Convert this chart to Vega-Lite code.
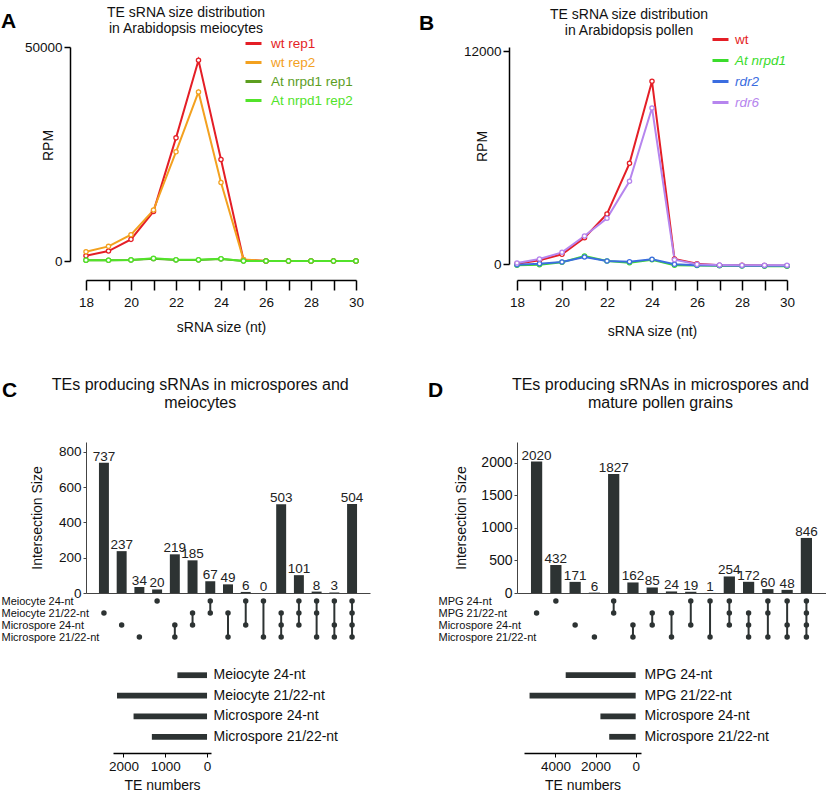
{
  "$schema": "https://vega.github.io/schema/vega-lite/v6.json",
  "padding": {"left": 1, "top": 5, "right": 0, "bottom": 0},
  "resolve": {"scale": {"color": "independent"}, "legend": {"color": "independent"}},
  "config": {
    "font": "Liberation Sans",
    "view": {"stroke": null},
    "axis": {"labelFont": "Liberation Sans", "titleFont": "Liberation Sans", "labelColor": "#111", "titleColor": "#111", "domainColor": "#222", "tickColor": "#222", "grid": false, "titleFontWeight": "normal", "labelFlush": false, "labelOverlap": false},
    "title": {"font": "Liberation Sans", "fontWeight": "normal", "color": "#111"},
    "legend": {"labelFont": "Liberation Sans"}
  },
  "datasets": {
    "a": [
      {"size": 18, "series": "wt rep1", "rpm": 1244}, {"size": 19, "series": "wt rep1", "rpm": 2333}, {"size": 20, "series": "wt rep1", "rpm": 5054}, {"size": 21, "series": "wt rep1", "rpm": 11586}, {"size": 22, "series": "wt rep1", "rpm": 28771}, {"size": 23, "series": "wt rep1", "rpm": 46890}, {"size": 24, "series": "wt rep1", "rpm": 23717}, {"size": 25, "series": "wt rep1", "rpm": 300}, {"size": 26, "series": "wt rep1", "rpm": 0}, {"size": 27, "series": "wt rep1", "rpm": 0}, {"size": 28, "series": "wt rep1", "rpm": 0}, {"size": 29, "series": "wt rep1", "rpm": 0}, {"size": 30, "series": "wt rep1", "rpm": 0},
      {"size": 18, "series": "wt rep2", "rpm": 2177}, {"size": 19, "series": "wt rep2", "rpm": 3421}, {"size": 20, "series": "wt rep2", "rpm": 6143}, {"size": 21, "series": "wt rep2", "rpm": 11897}, {"size": 22, "series": "wt rep2", "rpm": 25505}, {"size": 23, "series": "wt rep2", "rpm": 39502}, {"size": 24, "series": "wt rep2", "rpm": 18351}, {"size": 25, "series": "wt rep2", "rpm": 350}, {"size": 26, "series": "wt rep2", "rpm": 0}, {"size": 27, "series": "wt rep2", "rpm": 0}, {"size": 28, "series": "wt rep2", "rpm": 0}, {"size": 29, "series": "wt rep2", "rpm": 0}, {"size": 30, "series": "wt rep2", "rpm": 0},
      {"size": 18, "series": "At nrpd1 rep1", "rpm": 155}, {"size": 19, "series": "At nrpd1 rep1", "rpm": 155}, {"size": 20, "series": "At nrpd1 rep1", "rpm": 233}, {"size": 21, "series": "At nrpd1 rep1", "rpm": 544}, {"size": 22, "series": "At nrpd1 rep1", "rpm": 250}, {"size": 23, "series": "At nrpd1 rep1", "rpm": 233}, {"size": 24, "series": "At nrpd1 rep1", "rpm": 467}, {"size": 25, "series": "At nrpd1 rep1", "rpm": 10}, {"size": 26, "series": "At nrpd1 rep1", "rpm": 0}, {"size": 27, "series": "At nrpd1 rep1", "rpm": 0}, {"size": 28, "series": "At nrpd1 rep1", "rpm": 0}, {"size": 29, "series": "At nrpd1 rep1", "rpm": 0}, {"size": 30, "series": "At nrpd1 rep1", "rpm": 0},
      {"size": 18, "series": "At nrpd1 rep2", "rpm": 200}, {"size": 19, "series": "At nrpd1 rep2", "rpm": 180}, {"size": 20, "series": "At nrpd1 rep2", "rpm": 260}, {"size": 21, "series": "At nrpd1 rep2", "rpm": 620}, {"size": 22, "series": "At nrpd1 rep2", "rpm": 300}, {"size": 23, "series": "At nrpd1 rep2", "rpm": 280}, {"size": 24, "series": "At nrpd1 rep2", "rpm": 540}, {"size": 25, "series": "At nrpd1 rep2", "rpm": 20}, {"size": 26, "series": "At nrpd1 rep2", "rpm": 0}, {"size": 27, "series": "At nrpd1 rep2", "rpm": 0}, {"size": 28, "series": "At nrpd1 rep2", "rpm": 0}, {"size": 29, "series": "At nrpd1 rep2", "rpm": 0}, {"size": 30, "series": "At nrpd1 rep2", "rpm": 0}
    ],
    "b": [
      {"size": 18, "series": "wt", "rpm": 19}, {"size": 19, "series": "wt", "rpm": 207}, {"size": 20, "series": "wt", "rpm": 545}, {"size": 21, "series": "wt", "rpm": 1486}, {"size": 22, "series": "wt", "rpm": 2821}, {"size": 23, "series": "wt", "rpm": 5680}, {"size": 24, "series": "wt", "rpm": 10307}, {"size": 25, "series": "wt", "rpm": 282}, {"size": 26, "series": "wt", "rpm": 19}, {"size": 27, "series": "wt", "rpm": -75}, {"size": 28, "series": "wt", "rpm": -75}, {"size": 29, "series": "wt", "rpm": -90}, {"size": 30, "series": "wt", "rpm": -94},
      {"size": 18, "series": "At nrpd1", "rpm": -75}, {"size": 19, "series": "At nrpd1", "rpm": -38}, {"size": 20, "series": "At nrpd1", "rpm": 94}, {"size": 21, "series": "At nrpd1", "rpm": 451}, {"size": 22, "series": "At nrpd1", "rpm": 169}, {"size": 23, "series": "At nrpd1", "rpm": 75}, {"size": 24, "series": "At nrpd1", "rpm": 244}, {"size": 25, "series": "At nrpd1", "rpm": -75}, {"size": 26, "series": "At nrpd1", "rpm": -90}, {"size": 27, "series": "At nrpd1", "rpm": -100}, {"size": 28, "series": "At nrpd1", "rpm": -110}, {"size": 29, "series": "At nrpd1", "rpm": -120}, {"size": 30, "series": "At nrpd1", "rpm": -130},
      {"size": 18, "series": "rdr2", "rpm": -38}, {"size": 19, "series": "rdr2", "rpm": 19}, {"size": 20, "series": "rdr2", "rpm": 113}, {"size": 21, "series": "rdr2", "rpm": 395}, {"size": 22, "series": "rdr2", "rpm": 169}, {"size": 23, "series": "rdr2", "rpm": 132}, {"size": 24, "series": "rdr2", "rpm": 263}, {"size": 25, "series": "rdr2", "rpm": -19}, {"size": 26, "series": "rdr2", "rpm": -75}, {"size": 27, "series": "rdr2", "rpm": -90}, {"size": 28, "series": "rdr2", "rpm": -94}, {"size": 29, "series": "rdr2", "rpm": -94}, {"size": 30, "series": "rdr2", "rpm": -94},
      {"size": 18, "series": "rdr6", "rpm": 56}, {"size": 19, "series": "rdr6", "rpm": 282}, {"size": 20, "series": "rdr6", "rpm": 658}, {"size": 21, "series": "rdr6", "rpm": 1580}, {"size": 22, "series": "rdr6", "rpm": 2577}, {"size": 23, "series": "rdr6", "rpm": 4664}, {"size": 24, "series": "rdr6", "rpm": 8802}, {"size": 25, "series": "rdr6", "rpm": 244}, {"size": 26, "series": "rdr6", "rpm": -19}, {"size": 27, "series": "rdr6", "rpm": -56}, {"size": 28, "series": "rdr6", "rpm": -75}, {"size": 29, "series": "rdr6", "rpm": -75}, {"size": 30, "series": "rdr6", "rpm": -75}
    ],
    "cbars": [
      {"id": 1, "n": 737}, {"id": 2, "n": 237}, {"id": 3, "n": 34}, {"id": 4, "n": 20}, {"id": 5, "n": 219}, {"id": 6, "n": 185}, {"id": 7, "n": 67}, {"id": 8, "n": 49}, {"id": 9, "n": 6}, {"id": 10, "n": 0}, {"id": 11, "n": 503}, {"id": 12, "n": 101}, {"id": 13, "n": 8}, {"id": 14, "n": 3}, {"id": 15, "n": 504}
    ],
    "cdots": [
      {"id": 1, "set": "Meiocyte 21/22-nt"},
      {"id": 2, "set": "Microspore 24-nt"},
      {"id": 3, "set": "Microspore 21/22-nt"},
      {"id": 4, "set": "Meiocyte 24-nt"},
      {"id": 5, "set": "Microspore 24-nt"}, {"id": 5, "set": "Microspore 21/22-nt"},
      {"id": 6, "set": "Meiocyte 21/22-nt"}, {"id": 6, "set": "Microspore 24-nt"},
      {"id": 7, "set": "Meiocyte 24-nt"}, {"id": 7, "set": "Meiocyte 21/22-nt"},
      {"id": 8, "set": "Meiocyte 21/22-nt"}, {"id": 8, "set": "Microspore 21/22-nt"},
      {"id": 9, "set": "Meiocyte 24-nt"}, {"id": 9, "set": "Microspore 24-nt"},
      {"id": 10, "set": "Meiocyte 24-nt"}, {"id": 10, "set": "Microspore 21/22-nt"},
      {"id": 11, "set": "Meiocyte 21/22-nt"}, {"id": 11, "set": "Microspore 24-nt"}, {"id": 11, "set": "Microspore 21/22-nt"},
      {"id": 12, "set": "Meiocyte 24-nt"}, {"id": 12, "set": "Meiocyte 21/22-nt"}, {"id": 12, "set": "Microspore 24-nt"},
      {"id": 13, "set": "Meiocyte 24-nt"}, {"id": 13, "set": "Meiocyte 21/22-nt"}, {"id": 13, "set": "Microspore 21/22-nt"},
      {"id": 14, "set": "Meiocyte 24-nt"}, {"id": 14, "set": "Microspore 24-nt"}, {"id": 14, "set": "Microspore 21/22-nt"},
      {"id": 15, "set": "Meiocyte 24-nt"}, {"id": 15, "set": "Meiocyte 21/22-nt"}, {"id": 15, "set": "Microspore 24-nt"}, {"id": 15, "set": "Microspore 21/22-nt"}
    ],
    "csets": [
      {"set": "Meiocyte 24-nt", "n": 709}, {"set": "Meiocyte 21/22-nt", "n": 2154}, {"set": "Microspore 24-nt", "n": 1758}, {"set": "Microspore 21/22-nt", "n": 1320}
    ],
    "dbars": [
      {"id": 1, "n": 2020}, {"id": 2, "n": 432}, {"id": 3, "n": 171}, {"id": 4, "n": 6}, {"id": 5, "n": 1827}, {"id": 6, "n": 162}, {"id": 7, "n": 85}, {"id": 8, "n": 24}, {"id": 9, "n": 19}, {"id": 10, "n": 1}, {"id": 11, "n": 254}, {"id": 12, "n": 172}, {"id": 13, "n": 60}, {"id": 14, "n": 48}, {"id": 15, "n": 846}
    ],
    "ddots": [
      {"id": 1, "set": "MPG 21/22-nt"},
      {"id": 2, "set": "MPG 24-nt"},
      {"id": 3, "set": "Microspore 24-nt"},
      {"id": 4, "set": "Microspore 21/22-nt"},
      {"id": 5, "set": "MPG 24-nt"}, {"id": 5, "set": "MPG 21/22-nt"},
      {"id": 6, "set": "Microspore 24-nt"}, {"id": 6, "set": "Microspore 21/22-nt"},
      {"id": 7, "set": "MPG 21/22-nt"}, {"id": 7, "set": "Microspore 24-nt"},
      {"id": 8, "set": "MPG 21/22-nt"}, {"id": 8, "set": "Microspore 21/22-nt"},
      {"id": 9, "set": "MPG 24-nt"}, {"id": 9, "set": "Microspore 24-nt"},
      {"id": 10, "set": "MPG 24-nt"}, {"id": 10, "set": "Microspore 21/22-nt"},
      {"id": 11, "set": "MPG 24-nt"}, {"id": 11, "set": "MPG 21/22-nt"}, {"id": 11, "set": "Microspore 24-nt"},
      {"id": 12, "set": "MPG 21/22-nt"}, {"id": 12, "set": "Microspore 24-nt"}, {"id": 12, "set": "Microspore 21/22-nt"},
      {"id": 13, "set": "MPG 24-nt"}, {"id": 13, "set": "MPG 21/22-nt"}, {"id": 13, "set": "Microspore 21/22-nt"},
      {"id": 14, "set": "MPG 24-nt"}, {"id": 14, "set": "Microspore 24-nt"}, {"id": 14, "set": "Microspore 21/22-nt"},
      {"id": 15, "set": "MPG 24-nt"}, {"id": 15, "set": "MPG 21/22-nt"}, {"id": 15, "set": "Microspore 24-nt"}, {"id": 15, "set": "Microspore 21/22-nt"}
    ],
    "dsets": [
      {"set": "MPG 24-nt", "n": 3487}, {"set": "MPG 21/22-nt", "n": 5288}, {"set": "Microspore 24-nt", "n": 1757}, {"set": "Microspore 21/22-nt", "n": 1319}
    ]
  },
  "hconcat": [
    {
      "title": {"text": "A", "fontSize": 21, "fontWeight": "bold", "anchor": "start", "frame": "bounds", "offset": -26, "dx": 0, "color": "#000"},
      "spacing": 41,
      "vconcat": [
        {
          "width": 270, "height": 214,
          "data": {"name": "a"},
          "title": {"text": ["TE sRNA size distribution", "in Arabidopsis meiocytes"], "fontSize": 14, "lineHeight": 16.5, "anchor": "middle", "frame": "bounds", "offset": 4, "dx": -8},
          "encoding": {
            "x": {"field": "size", "type": "quantitative", "scale": {"domain": [18, 30], "nice": false, "zero": false},
              "axis": {"values": [18, 19, 20, 21, 22, 23, 24, 25, 26, 27, 28, 29, 30], "labelExpr": "datum.value % 2 == 0 ? datum.label : ''", "offset": 19, "tickSize": 10, "tickWidth": 1.5, "domainWidth": 1.5, "domainColor": "#000", "tickColor": "#000", "labelPadding": 5, "labelFontSize": 13.5, "title": "sRNA size (nt)", "titleFontSize": 14, "titlePadding": 12}},
            "y": {"field": "rpm", "type": "quantitative", "scale": {"domain": [0, 50000], "nice": false},
              "axis": {"values": [0, 50000], "format": "d", "offset": 16, "tickSize": 6, "tickWidth": 1.5, "domainWidth": 1.5, "domainColor": "#000", "tickColor": "#000", "labelPadding": 2, "labelFontSize": 13.5, "title": "RPM", "titleFontSize": 14, "titleX": -18, "titleY": 98, "titleAngle": -90, "titleBaseline": "alphabetic", "titleAlign": "center"}},
            "color": {"field": "series", "type": "nominal",
              "scale": {"domain": ["wt rep1", "wt rep2", "At nrpd1 rep1", "At nrpd1 rep2"], "range": ["#e41e26", "#f3a11f", "#5c9e1f", "#52e32a"]},
              "legend": {"orient": "none", "legendX": 158, "legendY": -13, "title": null, "padding": 0, "symbolType": "stroke", "symbolSize": 256, "symbolStrokeWidth": 3, "labelFontSize": 13.5, "labelOffset": 8, "rowPadding": 3,
                "labelColor": {"expr": "datum.label == 'wt rep1' ? '#e41e26' : datum.label == 'wt rep2' ? '#f3a11f' : datum.label == 'At nrpd1 rep1' ? '#5c9e1f' : '#52e32a'"}}}
          },
          "layer": [
            {"mark": {"type": "line", "strokeWidth": 2}},
            {"mark": {"type": "point", "filled": false, "fill": "white", "size": 18, "strokeWidth": 1.3, "opacity": 1}}
          ]
        },
        {
          "title": {"text": "C", "fontSize": 21, "fontWeight": "bold", "anchor": "start", "frame": "bounds", "offset": -24, "dx": 1, "color": "#000"},
          "spacing": 16,
          "vconcat": [
            {
              "spacing": 2,
              "bounds": "flush",
              "vconcat": [
                {
                  "width": 284, "height": 151,
                  "data": {"name": "cbars"},
                  "title": {"text": ["TEs producing sRNAs in microspores and", "meiocytes"], "fontSize": 16, "lineHeight": 18.5, "anchor": "middle", "frame": "bounds", "offset": 31},
                  "encoding": {
                    "x": {"field": "id", "type": "ordinal", "scale": {"type": "band", "paddingInner": 0.438, "paddingOuter": 0.731}, "axis": {"labels": false, "ticks": false, "title": null, "domainColor": "#444"}},
                    "y": {"field": "n", "type": "quantitative", "scale": {"domain": [0, 855], "nice": false},
                      "axis": {"values": [0, 200, 400, 600, 800], "title": "Intersection Size", "titleFontSize": 14, "labelFontSize": 13.5, "tickSize": 3, "labelPadding": 2, "titlePadding": 14, "domainColor": "#444", "tickColor": "#444"}}
                  },
                  "layer": [
                    {"mark": {"type": "bar", "color": "#2d3333"}},
                    {"mark": {"type": "text", "baseline": "alphabetic", "dy": -2, "fontSize": 13.5, "color": "#222"}, "encoding": {"text": {"field": "n", "type": "quantitative"}}}
                  ]
                },
                {
                  "width": 284, "height": 48,
                  "data": {"name": "cdots"},
                  "encoding": {
                    "x": {"field": "id", "type": "ordinal", "bandPosition": 0.5, "scale": {"type": "band", "paddingInner": 0.438, "paddingOuter": 0.731}, "axis": null},
                    "y": {"field": "set", "type": "nominal", "scale": {"type": "point", "domain": ["Meiocyte 24-nt", "Meiocyte 21/22-nt", "Microspore 24-nt", "Microspore 21/22-nt"], "padding": 0.5},
                      "axis": {"title": null, "ticks": false, "tickSize": 0, "domain": false, "labelAlign": "left", "labelPadding": 85, "labelFontSize": 11}}
                  },
                  "layer": [
                    {"mark": {"type": "line", "color": "#2d3333", "strokeWidth": 2}, "encoding": {"detail": {"field": "id", "type": "nominal"}}},
                    {"mark": {"type": "circle", "color": "#2d3333", "size": 30, "opacity": 1}}
                  ]
                }
              ]
            },
            {
              "spacing": 1,
              "hconcat": [
                {"width": 21, "height": 10, "data": {"values": [{"z": 0}]}, "mark": {"type": "point", "opacity": 0, "size": 1}},
                {
                  "width": 98, "height": 94,
                  "data": {"name": "csets"},
                  "mark": {"type": "bar", "color": "#2d3333"},
                  "encoding": {
                    "y": {"field": "set", "type": "nominal", "scale": {"domain": ["Meiocyte 24-nt", "Meiocyte 21/22-nt", "Microspore 24-nt", "Microspore 21/22-nt"], "paddingInner": 0.72, "paddingOuter": 0.65},
                      "axis": {"orient": "right", "title": null, "ticks": false, "tickSize": 0, "domain": false, "labelPadding": 2, "labelFontSize": 14}},
                    "x": {"field": "n", "type": "quantitative", "scale": {"domain": [-95, 2250], "reverse": true, "nice": false, "zero": false},
                      "axis": {"values": [0, 1000, 2000], "format": "d", "title": "TE numbers", "titleFontSize": 14, "labelFontSize": 13.5, "tickSize": 4, "labelPadding": 2, "titlePadding": 6, "domainWidth": 1.5, "domainColor": "#000", "tickColor": "#000"}}
                  }
                }
              ]
            }
          ]
        }
      ]
    },
    {
      "title": {"text": "B", "fontSize": 21, "fontWeight": "bold", "anchor": "start", "frame": "bounds", "offset": -26, "dx": -9, "color": "#000"},
      "spacing": 37,
      "vconcat": [
        {
          "width": 270, "height": 217,
          "data": {"name": "b"},
          "title": {"text": ["TE sRNA size distribution", "in Arabidopsis pollen"], "fontSize": 14, "lineHeight": 16.5, "anchor": "middle", "frame": "bounds", "offset": 6},
          "encoding": {
            "x": {"field": "size", "type": "quantitative", "scale": {"domain": [18, 30], "nice": false, "zero": false},
              "axis": {"values": [18, 19, 20, 21, 22, 23, 24, 25, 26, 27, 28, 29, 30], "labelExpr": "datum.value % 2 == 0 ? datum.label : ''", "offset": 16, "tickSize": 10, "tickWidth": 1.5, "domainWidth": 1.5, "domainColor": "#000", "tickColor": "#000", "labelPadding": 5, "labelFontSize": 13.5, "title": "sRNA size (nt)", "titleFontSize": 14, "titlePadding": 16}},
            "y": {"field": "rpm", "type": "quantitative", "scale": {"domain": [0, 12240], "nice": false, "zero": false},
              "axis": {"values": [0, 12000], "format": "d", "offset": 8, "tickSize": 6, "tickWidth": 1.5, "domainWidth": 1.5, "domainColor": "#000", "tickColor": "#000", "labelPadding": 2, "labelFontSize": 13.5, "title": "RPM", "titleFontSize": 14, "titleX": -23, "titleY": 99, "titleAngle": -90, "titleBaseline": "alphabetic", "titleAlign": "center"}},
            "color": {"field": "series", "type": "nominal",
              "scale": {"domain": ["wt", "At nrpd1", "rdr2", "rdr6"], "range": ["#e41e26", "#3bdc2c", "#3b6de0", "#b685ee"]},
              "legend": {"orient": "none", "legendX": 194, "legendY": -17, "title": null, "padding": 0, "symbolType": "stroke", "symbolSize": 256, "symbolStrokeWidth": 3, "labelFontSize": 13.5, "labelOffset": 5, "rowPadding": 5,
                "labelFontStyle": {"expr": "datum.label == 'wt' ? 'normal' : 'italic'"},
                "labelColor": {"expr": "datum.label == 'wt' ? '#e41e26' : datum.label == 'At nrpd1' ? '#3bdc2c' : datum.label == 'rdr2' ? '#3b6de0' : '#b685ee'"}}}
          },
          "layer": [
            {"mark": {"type": "line", "strokeWidth": 2}},
            {"mark": {"type": "point", "filled": false, "fill": "white", "size": 18, "strokeWidth": 1.3, "opacity": 1}}
          ]
        },
        {
          "title": {"text": "D", "fontSize": 21, "fontWeight": "bold", "anchor": "start", "frame": "bounds", "offset": -24, "dx": -10, "color": "#000"},
          "spacing": 16,
          "vconcat": [
            {
              "spacing": 2,
              "bounds": "flush",
              "vconcat": [
                {
                  "width": 309, "height": 151,
                  "data": {"name": "dbars"},
                  "title": {"text": ["TEs producing sRNAs in microspores and", "mature pollen grains"], "fontSize": 16, "lineHeight": 18.5, "anchor": "middle", "frame": "bounds", "offset": 31, "dx": 20},
                  "encoding": {
                    "x": {"field": "id", "type": "ordinal", "scale": {"type": "band", "paddingInner": 0.417, "paddingOuter": 0.725}, "axis": {"labels": false, "ticks": false, "title": null, "domainColor": "#444"}},
                    "y": {"field": "n", "type": "quantitative", "scale": {"domain": [0, 2320], "nice": false},
                      "axis": {"values": [0, 500, 1000, 1500, 2000], "format": "d", "title": "Intersection Size", "titleFontSize": 14, "labelFontSize": 14, "tickSize": 3, "labelPadding": 2, "titlePadding": 12, "domainColor": "#444", "tickColor": "#444"}}
                  },
                  "layer": [
                    {"mark": {"type": "bar", "color": "#2d3333"}},
                    {"mark": {"type": "text", "baseline": "alphabetic", "dy": -2, "fontSize": 13.5, "color": "#222"}, "encoding": {"text": {"field": "n", "type": "quantitative"}}}
                  ]
                },
                {
                  "width": 309, "height": 48,
                  "data": {"name": "ddots"},
                  "encoding": {
                    "x": {"field": "id", "type": "ordinal", "bandPosition": 0.5, "scale": {"type": "band", "paddingInner": 0.417, "paddingOuter": 0.725}, "axis": null},
                    "y": {"field": "set", "type": "nominal", "scale": {"type": "point", "domain": ["MPG 24-nt", "MPG 21/22-nt", "Microspore 24-nt", "Microspore 21/22-nt"], "padding": 0.5},
                      "axis": {"title": null, "ticks": false, "tickSize": 0, "domain": false, "labelAlign": "left", "labelPadding": 79, "labelFontSize": 11}}
                  },
                  "layer": [
                    {"mark": {"type": "line", "color": "#2d3333", "strokeWidth": 2}, "encoding": {"detail": {"field": "id", "type": "nominal"}}},
                    {"mark": {"type": "circle", "color": "#2d3333", "size": 30, "opacity": 1}}
                  ]
                }
              ]
            },
            {
              "spacing": 1,
              "hconcat": [
                {"width": 6, "height": 10, "data": {"values": [{"z": 0}]}, "mark": {"type": "point", "opacity": 0, "size": 1}},
                {
                  "width": 117, "height": 94,
                  "data": {"name": "dsets"},
                  "mark": {"type": "bar", "color": "#2d3333"},
                  "encoding": {
                    "y": {"field": "set", "type": "nominal", "scale": {"domain": ["MPG 24-nt", "MPG 21/22-nt", "Microspore 24-nt", "Microspore 21/22-nt"], "paddingInner": 0.72, "paddingOuter": 0.65},
                      "axis": {"orient": "right", "title": null, "ticks": false, "tickSize": 0, "domain": false, "labelPadding": 3, "labelFontSize": 14}},
                    "x": {"field": "n", "type": "quantitative", "scale": {"domain": [-265, 5565], "reverse": true, "nice": false, "zero": false},
                      "axis": {"values": [0, 2000, 4000], "format": "d", "title": "TE numbers", "titleFontSize": 14, "labelFontSize": 13.5, "tickSize": 4, "labelPadding": 2, "titlePadding": 6, "domainWidth": 1.5, "domainColor": "#000", "tickColor": "#000"}}
                  }
                }
              ]
            }
          ]
        }
      ]
    }
  ],
  "spacing": 49
}
